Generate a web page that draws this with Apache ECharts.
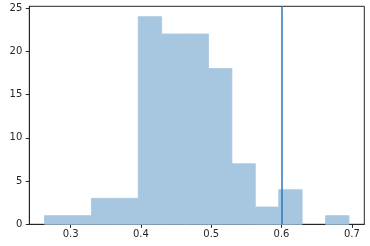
<!DOCTYPE html>
<html>
<head>
<meta charset="utf-8">
<script src="https://cdn.jsdelivr.net/npm/echarts@6/dist/echarts.min.js"></script>
<style>html,body{margin:0;padding:0;background:#fff}#c{width:370px;height:246px}</style>
</head>
<body>
<div id="c"></div>
<script>
var binEdges = [0.263, 0.2963, 0.3296, 0.3629, 0.3962, 0.4295, 0.4628, 0.4961, 0.5294, 0.5627, 0.596, 0.6293, 0.6626, 0.6959];
var counts = [1, 1, 3, 3, 24, 22, 22, 18, 7, 2, 4, 0, 1];
var xTicks = [0.3, 0.4, 0.5, 0.6, 0.7];
var yTicks = [0, 5, 10, 15, 20, 25];
var vLine = 0.6;

var barData = counts.map(function (c, i) { return [binEdges[i], binEdges[i + 1], c]; });

var chart = echarts.init(document.getElementById('c'), null, {renderer: 'canvas'});
var font = {fontFamily: 'DejaVu Sans', fontSize: 10, color: '#262626'};
chart.setOption({
  animation: false,
  grid: {left: 29.3, right: 5.7, top: 6.3, bottom: 21.7, show: true, borderColor: '#262626', borderWidth: 1, backgroundColor: 'transparent'},
  xAxis: {
    type: 'value', min: 0.2413, max: 0.7177,
    splitLine: {show: false},
    axisLine: {show: true, onZero: false, lineStyle: {color: '#262626', width: 1}},
    axisTick: {show: true, length: 3.5, customValues: xTicks, lineStyle: {color: '#262626'}},
    axisLabel: Object.assign({margin: 5, customValues: xTicks, formatter: function (v) { return v.toFixed(1); }}, font)
  },
  yAxis: {
    type: 'value', min: 0, max: 25.2,
    splitLine: {show: false},
    axisLine: {show: true, lineStyle: {color: '#262626', width: 1}},
    axisTick: {show: true, length: 3.5, customValues: yTicks, lineStyle: {color: '#262626'}},
    axisLabel: Object.assign({margin: 7, customValues: yTicks}, font)
  },
  series: [{
    type: 'custom',
    data: barData,
    encode: {x: [0, 1], y: 2},
    renderItem: function (params, api) {
      var p0 = api.coord([api.value(0), 0]);
      var p1 = api.coord([api.value(1), api.value(2)]);
      if (api.value(2) <= 0) return null;
      return {
        type: 'rect',
        z2: 1,
        shape: {x: p0[0], y: p1[1], width: p1[0] - p0[0], height: p0[1] - p1[1]},
        style: {fill: '#a7c6e0', stroke: '#a7c6e0', lineWidth: 0.8}
      };
    },
    markLine: {
      silent: true, symbol: 'none', animation: false,
      label: {show: false},
      lineStyle: {color: '#2f78b8', width: 1.5, type: 'solid'},
      data: [{xAxis: vLine}]
    }
  }]
});
</script>
</body>
</html>
